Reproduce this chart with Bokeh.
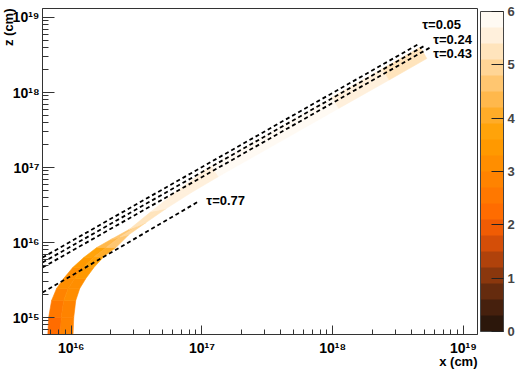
import math
from bokeh.plotting import figure
from bokeh.models import (ColumnDataSource, LinearColorMapper, ColorBar, FixedTicker,
                          CustomJSTickFormatter, Label, Range1d, Title)
from bokeh.transform import linear_cmap
from bokeh.embed import file_html
from bokeh.resources import INLINE

# ---------------- data ----------------
# band cross-sections: inner edge point and outer edge point (cm)
band_in_x = [6.59e15, 6.72e15, 7.08e15, 7.73e15, 8.75e15, 1.027e16, 1.248e16, 1.57e16, 2.01e16,
             2.77e16, 4.09e16, 6.37e16, 1.183e17, 2.87e17, 9.9e17, 2.40e18, 4.67e18]
band_in_z = [4.94e14, 1.0e15, 1.69e15, 2.44e15, 3.31e15, 4.64e15, 6.31e15, 8.58e15, 1.096e16,
             1.49e16, 2.59e16, 4.79e16, 1.063e17, 2.54e17, 8.69e17, 2.08e18, 4.02e18]
band_out_x = [1.027e16, 1.045e16, 1.083e16, 1.162e16, 1.293e16, 1.49e16, 1.778e16, 2.2e16, 2.77e16,
              3.74e16, 5.33e16, 8.3e16, 1.34e17, 3.22e17, 1.11e18, 2.70e18, 5.24e18]
band_out_z = [4.94e14, 1.0e15, 1.69e15, 2.44e15, 3.31e15, 4.64e15, 6.51e15, 8.58e15, 1.28e16,
              1.85e16, 2.84e16, 4.64e16, 7.59e16, 1.80e17, 6.14e17, 1.47e18, 2.84e18]
# colour value of each band segment, inner half and outer half
band_val_in = [2.4, 2.5, 2.7, 3.0, 3.3, 3.6, 3.9, 4.3, 4.8, 5.2, 5.5, 5.65, 5.8, 5.8, 5.45, 5.2]
band_val_out = [2.9, 2.95, 3.0, 3.2, 3.4, 3.7, 4.0, 4.5, 4.9, 5.3, 5.5, 5.65, 5.8, 5.8, 5.45, 5.2]

# optical-depth contours (straight segments)
tau_labels = ["τ=0.05", "τ=0.24", "τ=0.43", "τ=0.77"]
tau_x0 = [6.03e15, 6.03e15, 6.03e15, 6.03e15]
tau_z0 = [6.3e15, 5.41e15, 4.64e15, 2.15e15]
tau_x1 = [4.62e18, 5.15e18, 5.62e18, 9.4e16]
tau_z1 = [4.5e18, 4.29e18, 4.02e18, 3.52e16]

# axes
x_title = "x (cm)"
z_title = "z (cm)"
x_ticks = [1e16, 1e17, 1e18, 1e19]
x_tick_labels = ["10¹⁶", "10¹⁷", "10¹⁸", "10¹⁹"]
z_ticks = [1e15, 1e16, 1e17, 1e18, 1e19]
z_tick_labels = ["10¹⁵", "10¹⁶", "10¹⁷", "10¹⁸", "10¹⁹"]
cbar_ticks = [0, 1, 2, 3, 4, 5, 6]

palette = ["#2c170b", "#46200d", "#652b0e", "#8a370d", "#b0420b", "#d44e08", "#f05c04",
           "#ff6c00", "#ff7800", "#ff8300", "#ff8e00", "#ff9900", "#ffa30a", "#ffac28",
           "#ffb84c", "#ffc670", "#ffd596", "#ffe4bc", "#fff0dc", "#fffaf3"]

FONT = "Liberation Sans"

# ---------------- build band patches ----------------
def lmid(a, b):
    return 10 ** ((math.log10(a) + math.log10(b)) / 2)

mid_x = [lmid(a, b) for a, b in zip(band_in_x, band_out_x)]
mid_z = [lmid(a, b) for a, b in zip(band_in_z, band_out_z)]
xs, ys, vals = [], [], []
for i in range(len(band_in_x) - 1):
    xs.append([band_in_x[i], mid_x[i], mid_x[i + 1], band_in_x[i + 1]])
    ys.append([band_in_z[i], mid_z[i], mid_z[i + 1], band_in_z[i + 1]])
    vals.append(band_val_in[i])
    xs.append([mid_x[i], band_out_x[i], band_out_x[i + 1], mid_x[i + 1]])
    ys.append([mid_z[i], band_out_z[i], band_out_z[i + 1], mid_z[i + 1]])
    vals.append(band_val_out[i])
band_src = ColumnDataSource(dict(xs=xs, ys=ys, v=vals))

p = figure(width=520, height=371, x_axis_type="log", y_axis_type="log",
           x_range=Range1d(6.03e15, 1.28e19), y_range=Range1d(5.94e14, 1.318e19),
           output_backend="svg", toolbar_location=None,
           min_border_left=42, min_border_top=8, min_border_bottom=37, min_border_right=10)
p.grid.visible = False
p.outline_line_color = "#333333"
p.outline_line_width = 1
p.background_fill_color = "white"
p.border_fill_color = "white"

cmap = linear_cmap("v", palette, 0, 6)
p.patches("xs", "ys", source=band_src, fill_color=cmap, line_color=cmap, line_width=0.6)

tau_src = ColumnDataSource(dict(x0=tau_x0, y0=tau_z0, x1=tau_x1, y1=tau_z1))
p.segment("x0", "y0", "x1", "y1", source=tau_src, line_color="black", line_width=1.8,
          line_dash="4 3")

# tau labels
label_pos = [(9.57e18, 8.07e18, "right"), (1.16e19, 5.09e18, "right"),
             (1.16e19, 3.31e18, "right"), (1.08e17, 3.63e16, "left")]
for txt, (lx, ly, al) in zip(tau_labels, label_pos):
    p.add_layout(Label(x=lx, y=ly, text=txt, text_align=al, text_baseline="middle",
                       text_font=FONT, text_font_style="bold", text_font_size="13px",
                       text_color="black"))

# minor ticks (2..9 per decade)
def minors(lo, hi):
    out = []
    for e in range(lo, hi):
        for m in range(2, 10):
            out.append(m * 10.0 ** e)
    return out

fmt_code = ("const i = tv.findIndex(t => Math.abs(Math.log10(t) - Math.log10(tick)) < 1e-6);"
            " return i >= 0 ? tl[i] : '';")
p.xaxis.ticker = FixedTicker(ticks=x_ticks, minor_ticks=minors(15, 19))
p.xaxis.formatter = CustomJSTickFormatter(args=dict(tv=x_ticks, tl=x_tick_labels), code=fmt_code)
p.yaxis.ticker = FixedTicker(ticks=z_ticks, minor_ticks=minors(14, 19))
p.yaxis.formatter = CustomJSTickFormatter(args=dict(tv=z_ticks, tl=z_tick_labels), code=fmt_code)
for ax in (p.xaxis[0], p.yaxis[0]):
    ax.axis_line_color = "#333333"
    ax.major_tick_line_color = "#333333"
    ax.minor_tick_line_color = "#333333"
    ax.major_tick_out = 0
    ax.minor_tick_out = 0
    ax.major_label_text_font = FONT
    ax.major_label_text_font_style = "bold"
    ax.major_label_text_font_size = "14px"
    ax.major_label_text_color = "black"
p.xaxis.major_tick_in = 9
p.xaxis.minor_tick_in = 5
p.yaxis.major_tick_in = 12
p.yaxis.minor_tick_in = 6
p.xaxis.major_label_standoff = 5
p.yaxis.major_label_standoff = 3

# axis titles as side-panel titles, pulled in towards the axes
def make_title(txt, standoff):
    t = Title(text=txt, align="right", text_font=FONT, text_font_style="bold",
              text_font_size="13px", text_color="black", offset=0)
    try:
        t.standoff = standoff
    except Exception:
        t.standoff = 0
    return t

p.add_layout(make_title(x_title, -20), "below")
p.add_layout(make_title(z_title, -13), "left")

mapper = LinearColorMapper(palette=palette, low=0, high=6)
cb = ColorBar(color_mapper=mapper, ticker=FixedTicker(ticks=cbar_ticks), width=23,
              padding=3, margin=0, major_tick_in=12, major_tick_out=0,
              major_tick_line_color="#222222", bar_line_color="#444444",
              major_label_text_font=FONT, major_label_text_font_style="bold",
              major_label_text_font_size="13px", label_standoff=4,
              border_line_color=None, background_fill_color=None)
p.add_layout(cb, "right")

open("out.html", "w").write(file_html(p, INLINE))
